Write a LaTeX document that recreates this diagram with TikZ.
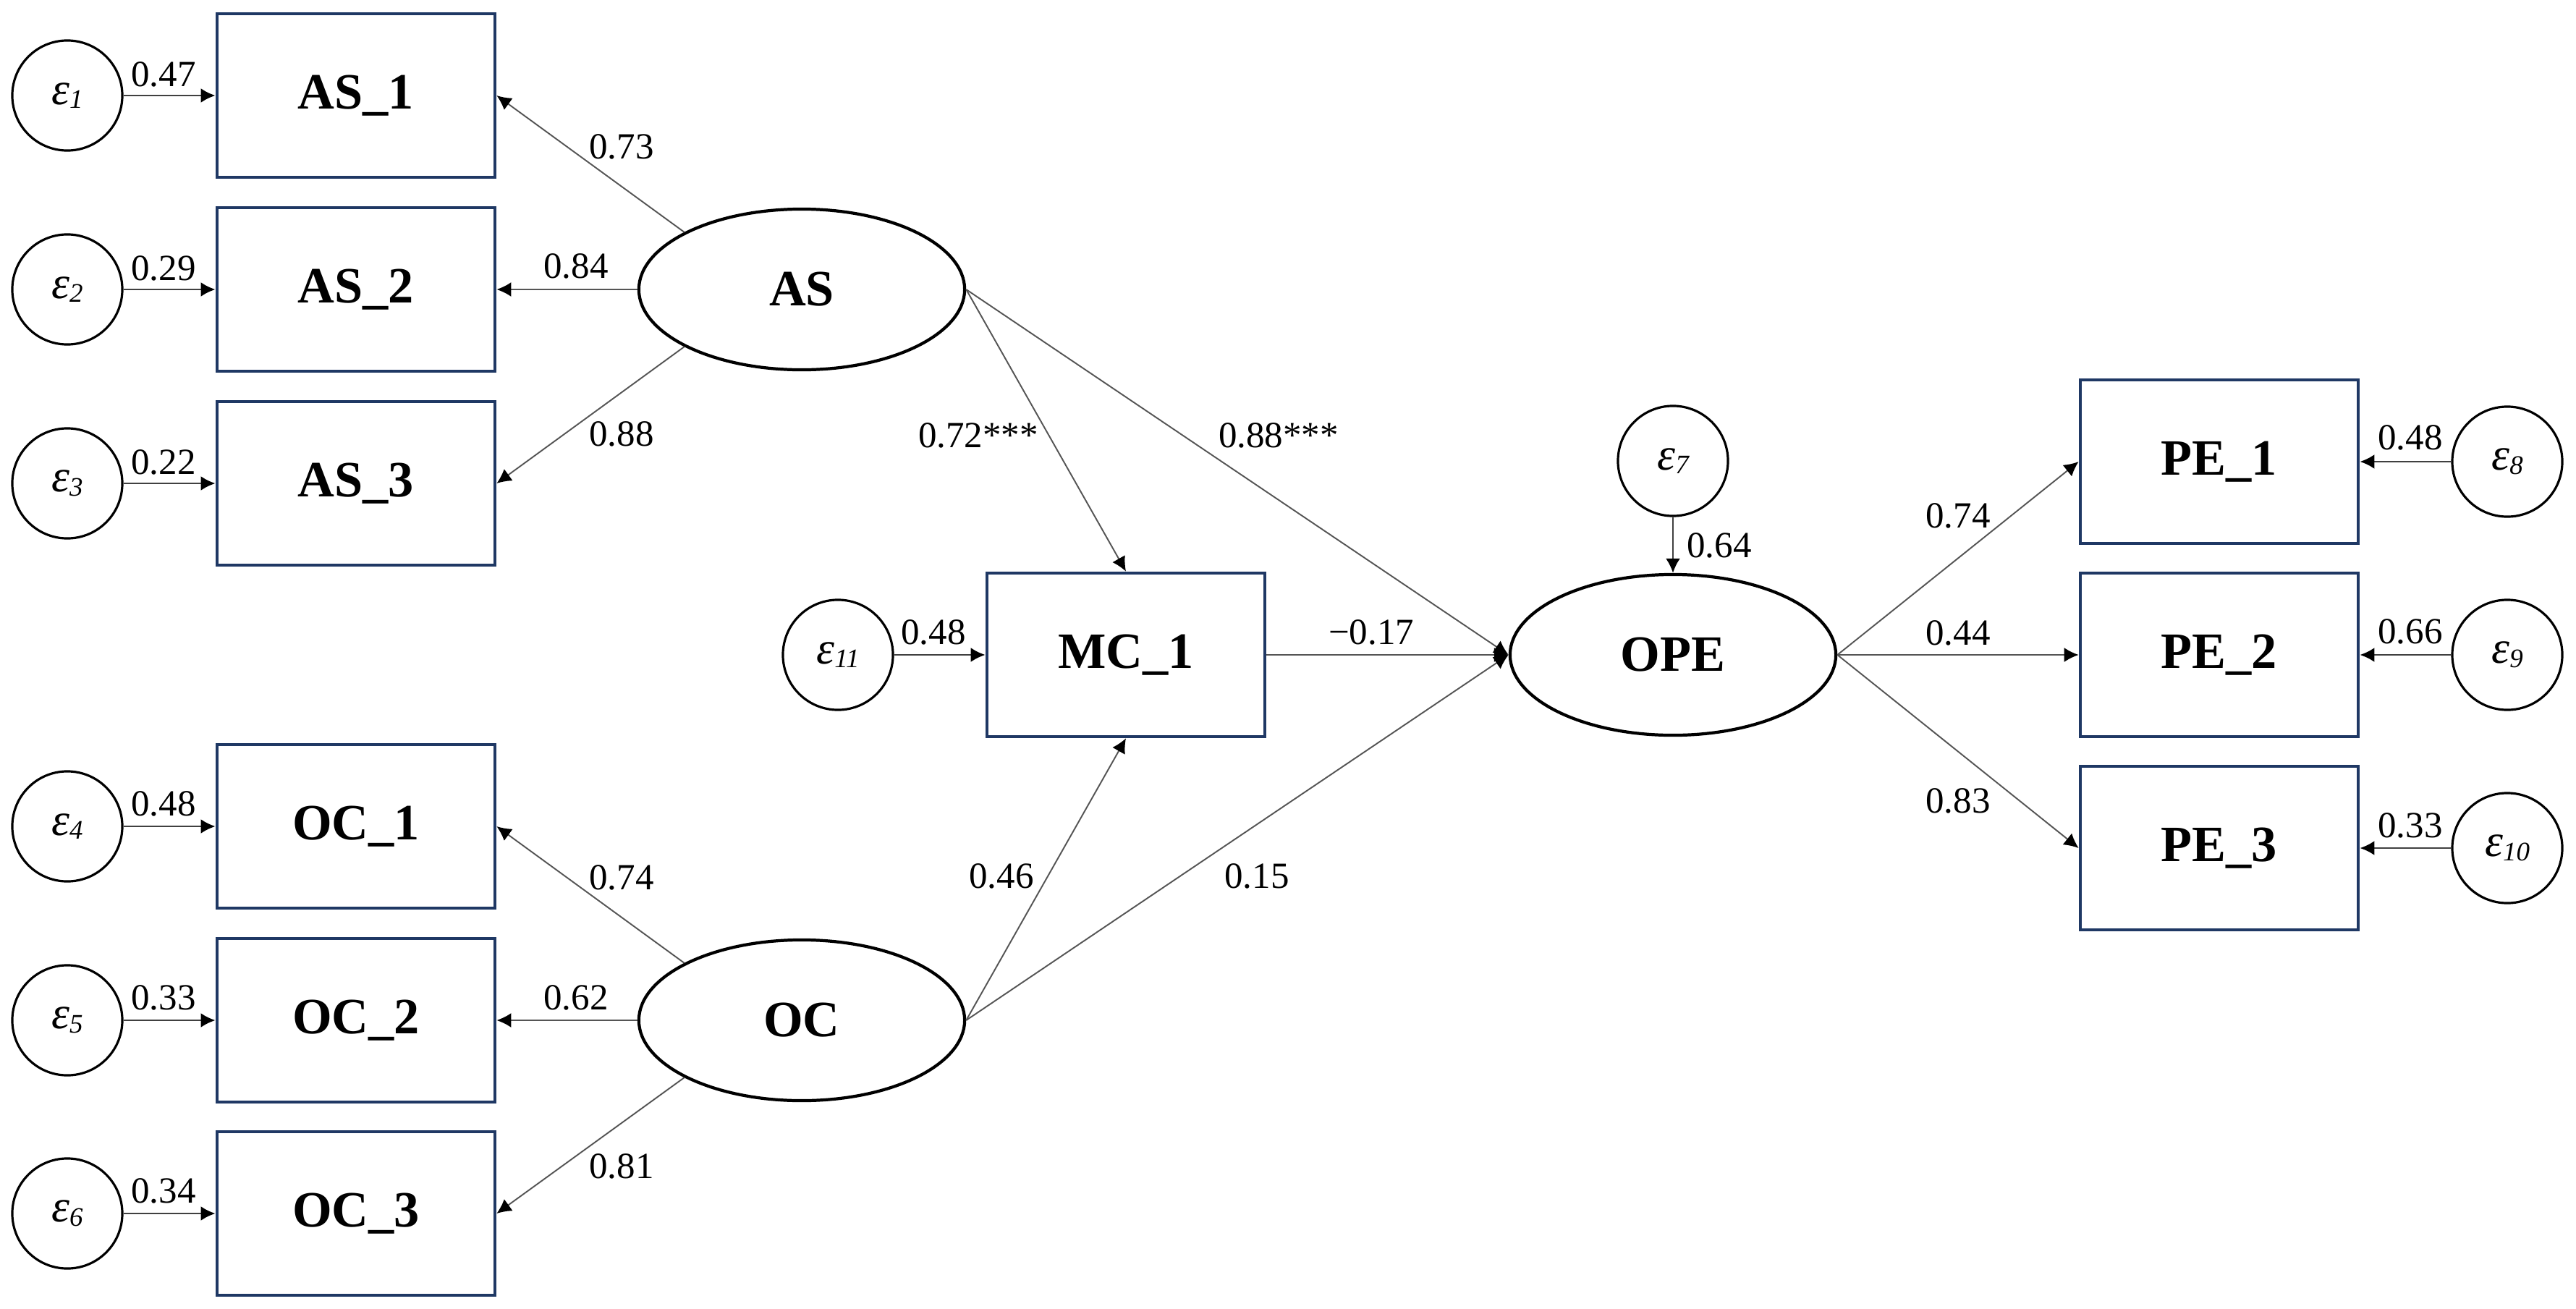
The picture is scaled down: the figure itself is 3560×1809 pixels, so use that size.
\documentclass[tikz,border=0pt]{standalone}
\usepackage{fontspec}
\setmainfont{Liberation Serif}
\usetikzlibrary{shapes.geometric,arrows.meta}
\definecolor{boxblue}{RGB}{31,56,100}
\definecolor{linegray}{RGB}{85,85,85}
\newcommand{\myeps}[1]{{\fontsize{18}{18}\selectfont\itshape ε\raisebox{-0.2ex}{\fontsize{10.5}{10.5}\selectfont #1}}}
\begin{document}
\begin{tikzpicture}[x=0.01cm,y=-0.01cm,
  obs/.style={draw=boxblue,line width=1.3pt,minimum width=3.84cm,minimum height=2.26cm,inner sep=0pt,font=\fontsize{20}{20}\selectfont\bfseries},
  lat/.style={ellipse,draw=black,line width=1.2pt,minimum width=4.5cm,minimum height=2.22cm,inner sep=0pt,font=\fontsize{20}{20}\selectfont\bfseries},
  err/.style={circle,draw=black,line width=0.9pt,minimum size=1.52cm,inner sep=0pt},
  arr/.style={-{Latex[length=0.2cm,width=0.2cm,color=black]},draw=linegray,line width=0.55pt},
  earr/.style={-{Latex[length=0.2cm,width=0.2cm,color=black]},draw=black!75,line width=0.8pt},
  lbl/.style={font=\fontsize{14.5}{14.5}\selectfont,inner sep=0pt}
]
\useasboundingbox (0,0) rectangle (3560,1809);

% error terms left
\node[err] (e1) at (93,132) {\myeps{1}};
\node[err] (e2) at (93,400) {\myeps{2}};
\node[err] (e3) at (93,668) {\myeps{3}};
\node[err] (e4) at (93,1142) {\myeps{4}};
\node[err] (e5) at (93,1410) {\myeps{5}};
\node[err] (e6) at (93,1677) {\myeps{6}};

% indicators
\node[obs] (AS1) at (492,132) {AS\_1};
\node[obs] (AS2) at (492,400) {AS\_2};
\node[obs] (AS3) at (492,668) {AS\_3};
\node[obs] (OC1) at (492,1142) {OC\_1};
\node[obs] (OC2) at (492,1410) {OC\_2};
\node[obs] (OC3) at (492,1677) {OC\_3};

% latent
\node[lat] (AS) at (1108,400) {AS};
\node[lat] (OC) at (1108,1410) {OC};

% mediator
\node[err] (e11) at (1158,905) {\myeps{11}};
\node[obs] (MC1) at (1556,905) {MC\_1};

% outcome
\node[lat] (OPE) at (2312,905) {OPE};
\node[err] (e7) at (2312,637) {\myeps{7}};

\node[obs] (PE1) at (3067,638) {PE\_1};
\node[obs] (PE2) at (3067,905) {PE\_2};
\node[obs] (PE3) at (3067,1172) {PE\_3};

\node[err] (e8) at (3465,638) {\myeps{8}};
\node[err] (e9) at (3465,905) {\myeps{9}};
\node[err] (e10) at (3465,1172) {\myeps{10}};

% error arrows
\draw[earr] (e1) -- (AS1);
\draw[earr] (e2) -- (AS2);
\draw[earr] (e3) -- (AS3);
\draw[earr] (e4) -- (OC1);
\draw[earr] (e5) -- (OC2);
\draw[earr] (e6) -- (OC3);
\draw[earr] (e11) -- (MC1);
\draw[earr] (e7) -- (OPE);
\draw[earr] (e8) -- (PE1);
\draw[earr] (e9) -- (PE2);
\draw[earr] (e10) -- (PE3);

% loadings
\draw[arr] (AS.154) -- (AS1.east);
\draw[arr] (AS.west) -- (AS2.east);
\draw[arr] (AS.206) -- (AS3.east);
\draw[arr] (OC.154) -- (OC1.east);
\draw[arr] (OC.west) -- (OC2.east);
\draw[arr] (OC.206) -- (OC3.east);
\draw[arr] (OPE.east) -- (PE1.west);
\draw[arr] (OPE.east) -- (PE2.west);
\draw[arr] (OPE.east) -- (PE3.west);

% structural paths
\draw[arr] (AS.east) -- (MC1.north);
\draw[arr] (AS.east) -- (OPE.west);
\draw[arr] (OC.east) -- (MC1.south);
\draw[arr] (OC.east) -- (OPE.west);
\draw[arr] (MC1.east) -- (OPE.west);

% labels
\node[lbl] (l1) at (226,103) {0.47};
\node[lbl] (l2) at (226,371) {0.29};
\node[lbl] (l3) at (226,639) {0.22};
\node[lbl] (l4) at (226,1111) {0.48};
\node[lbl] (l5) at (226,1379) {0.33};
\node[lbl] (l6) at (226,1646) {0.34};

\node[lbl] (la1) at (859,203) {0.73};
\node[lbl] (la2) at (796,368) {0.84};
\node[lbl] (la3) at (859,600) {0.88};
\node[lbl] (lo1) at (859,1213) {0.74};
\node[lbl] (lo2) at (796,1379) {0.62};
\node[lbl] (lo3) at (859,1612) {0.81};

\node[lbl] (lam) at (1352,602) {0.72***};
\node[lbl] (lao) at (1767,602) {0.88***};
\node[lbl] (le11) at (1290,874) {0.48};
\node[lbl] (lmo) at (1895,874) {−0.17};
\node[lbl] (lom) at (1384,1211) {0.46};
\node[lbl] (loo) at (1737,1211) {0.15};
\node[lbl] (le7) at (2376,754) {0.64};

\node[lbl] (lp1) at (2706,713) {0.74};
\node[lbl] (lp2) at (2706,875) {0.44};
\node[lbl] (lp3) at (2706,1107) {0.83};
\node[lbl] (le8) at (3331,605) {0.48};
\node[lbl] (le9) at (3331,873) {0.66};
\node[lbl] (le10) at (3331,1141) {0.33};
\end{tikzpicture}
\end{document}
